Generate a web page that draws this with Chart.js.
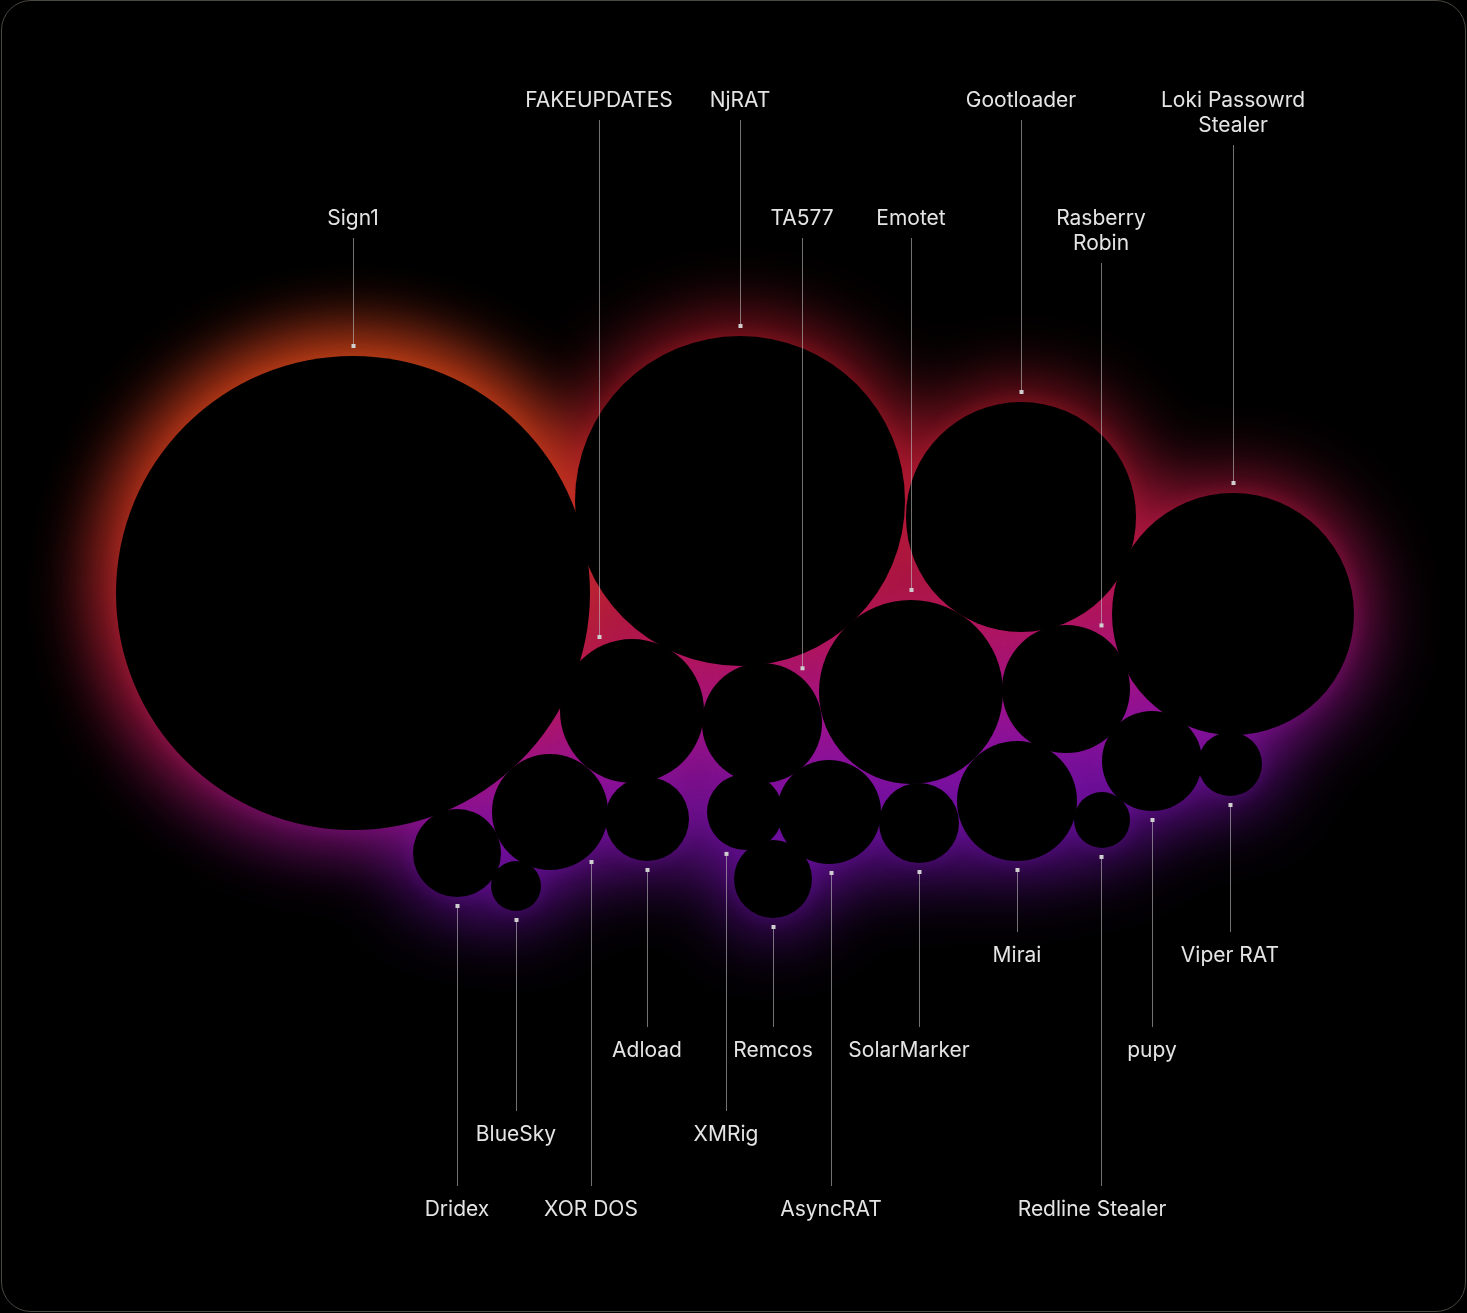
<!DOCTYPE html>
<html>
<head>
<meta charset="utf-8">
<script src="https://cdn.jsdelivr.net/npm/chart.js@4"></script>
<style>
    html, body { margin: 0; padding: 0; background: #000; }
    .frame {
        position: absolute; left: 1px; top: 0; right: 1px; bottom: 1px;
        border: 1px solid #4a4640; border-radius: 30px;
    }
    .chart-box { position: absolute; left: 0; top: 0; width: 1467px; height: 1313px; }
</style>
</head>
<body>
<div class="frame"></div>
<div class="chart-box"><canvas id="bubble-chart"></canvas></div>
<script>
// malware families, packed bubble layout
const names = ['Sign1', 'NjRAT', 'Gootloader', 'Loki Passowrd Stealer', 'Emotet', 'Rasberry Robin',
    'FAKEUPDATES', 'TA577', 'XOR DOS', 'Adload', 'Dridex', 'BlueSky', 'XMRig', 'AsyncRAT',
    'Remcos', 'SolarMarker', 'Mirai', 'Redline Stealer', 'pupy', 'Viper RAT'];
const xs = [35.3, 74.0, 102.1, 123.3, 91.1, 106.6, 63.2, 76.2, 55.0, 64.7, 45.7, 51.6, 74.5, 82.9,
    77.3, 91.9, 101.7, 110.2, 115.2, 123.0];
const ys = [59.3, 50.1, 51.7, 61.4, 69.2, 68.9, 71.1, 72.3, 81.2, 81.9, 85.3, 88.6, 81.2, 81.2,
    87.9, 82.3, 80.1, 82.0, 76.1, 76.4];
const sizes = [237, 165, 115, 121, 92, 64, 72, 60, 58, 42, 44, 25, 38, 52, 39, 40, 60, 28, 50, 32];

// label layout: text lines, label row (y in chart units), leader offset from centre, text nudge
const labelLayout = [
    { lines: ['Sign1'], row: 21.7, dx: 0, side: 'top' },
    { lines: ['NjRAT'], row: 9.9, dx: 0, side: 'top' },
    { lines: ['Gootloader'], row: 9.9, dx: 0, side: 'top' },
    { lines: ['Loki Passowrd', 'Stealer'], row: 9.9, dx: 0, side: 'top' },
    { lines: ['Emotet'], row: 21.7, dx: 0, side: 'top' },
    { lines: ['Rasberry', 'Robin'], row: 21.7, dx: 3.5, side: 'top' },
    { lines: ['FAKEUPDATES'], row: 9.9, dx: -3.3, side: 'top' },
    { lines: ['TA577'], row: 21.7, dx: 4.0, side: 'top' },
    { lines: ['XOR DOS'], row: 120.8, dx: 4.1, side: 'bottom' },
    { lines: ['Adload'], row: 104.9, dx: 0, side: 'bottom' },
    { lines: ['Dridex'], row: 120.8, dx: 0, side: 'bottom' },
    { lines: ['BlueSky'], row: 113.3, dx: 0, side: 'bottom' },
    { lines: ['XMRig'], row: 113.3, dx: -1.9, side: 'bottom' },
    { lines: ['AsyncRAT'], row: 120.8, dx: 0.2, side: 'bottom' },
    { lines: ['Remcos'], row: 104.9, dx: 0, side: 'bottom' },
    { lines: ['SolarMarker'], row: 104.9, dx: 0, side: 'bottom', textDx: -1.0 },
    { lines: ['Mirai'], row: 95.4, dx: 0, side: 'bottom' },
    { lines: ['Redline Stealer'], row: 120.8, dx: -0.1, side: 'bottom', textDx: -0.9 },
    { lines: ['pupy'], row: 104.9, dx: 0, side: 'bottom' },
    { lines: ['Viper RAT'], row: 95.4, dx: 0, side: 'bottom' }
];

const points = names.map((name, i) => ({ x: xs[i], y: ys[i], r: sizes[i] }));

function blurredDiscs(ctx, els, fill, blur, grow, alpha) {
    ctx.save();
    ctx.filter = `blur(${blur}px)`;
    ctx.globalAlpha = alpha;
    ctx.fillStyle = fill;
    ctx.beginPath();
    els.forEach(el => {
        const rr = el.options.radius + grow;
        ctx.moveTo(el.x + rr, el.y);
        ctx.arc(el.x, el.y, rr, 0, Math.PI * 2);
    });
    ctx.fill();
    ctx.restore();
}

// blurred coloured halo behind the black bubbles
const glowPlugin = {
    id: 'glow',
    beforeDatasetsDraw(chart) {
        const ctx = chart.ctx;
        const els = chart.getDatasetMeta(0).data;

        // mostly top-to-bottom: red -> pink -> magenta -> purple
        const base = ctx.createLinearGradient(300, 330, 360, 880);
        base.addColorStop(0, '#b81a2a');
        base.addColorStop(0.3, '#bc1a2c');
        base.addColorStop(0.52, '#bc1840');
        base.addColorStop(0.64, '#bc1658');
        base.addColorStop(0.74, '#b2147a');
        base.addColorStop(0.84, '#9a12a0');
        base.addColorStop(1, '#7010ac');
        blurredDiscs(ctx, els, base, 38, 10, 0.95);
        blurredDiscs(ctx, els, base, 8, 2, 0.22);

        // orange cast around the big left bubble
        const warm = ctx.createLinearGradient(0, 340, 0, 840);
        warm.addColorStop(0, 'rgba(226, 96, 14, 1)');
        warm.addColorStop(0.35, 'rgba(206, 70, 20, 0.85)');
        warm.addColorStop(0.7, 'rgba(196, 30, 52, 0.45)');
        warm.addColorStop(1, 'rgba(190, 24, 70, 0.1)');
        blurredDiscs(ctx, [els[0]], warm, 38, 10, 0.95);
    }
};

// leader lines, end markers and names
const labelPlugin = {
    id: 'labels',
    afterDatasetsDraw(chart) {
        const ctx = chart.ctx;
        const xScale = chart.scales.x;
        const yScale = chart.scales.y;
        const els = chart.getDatasetMeta(0).data;
        ctx.save();
        ctx.font = '21px Inter';
        ctx.textAlign = 'center';
        ctx.textBaseline = 'middle';
        labelLayout.forEach((lab, i) => {
            const el = els[i];
            const r = el.options.radius;
            const lx = xScale.getPixelForValue(xs[i] + lab.dx);
            const tx = xScale.getPixelForValue(xs[i] + lab.dx + (lab.textDx || 0));
            const ty = yScale.getPixelForValue(lab.row);
            const off = lx - el.x;
            const h = Math.sqrt(Math.max(r * r - off * off, 0));
            let markY, y0, y1;
            if (lab.side === 'top') {
                markY = el.y - h - 10;
                y0 = ty + (lab.lines.length - 1) * 25 + 21;
                y1 = markY;
            } else {
                markY = el.y + h + 9;
                y0 = markY;
                y1 = ty - 22;
            }
            ctx.strokeStyle = 'rgba(190, 190, 190, 0.6)';
            ctx.lineWidth = 1;
            ctx.beginPath();
            ctx.moveTo(Math.round(lx) + 0.5, y0);
            ctx.lineTo(Math.round(lx) + 0.5, y1);
            ctx.stroke();
            ctx.fillStyle = '#cfcfcf';
            ctx.fillRect(Math.round(lx) - 1.5, markY - 2, 4, 4);
            ctx.fillStyle = '#e4e4e4';
            lab.lines.forEach((line, k) => ctx.fillText(line, tx, ty + 2 + k * 25));
        });
        ctx.restore();
    }
};

new Chart(document.querySelector('#bubble-chart').getContext('2d'), {
    type: 'bubble',
    data: {
        labels: names,
        datasets: [{
            label: 'Malware',
            data: points,
            backgroundColor: '#000',
            borderWidth: 0,
            hoverBorderWidth: 0
        }]
    },
    options: {
        responsive: true,
        maintainAspectRatio: false,
        animation: false,
        events: [],
        layout: { padding: 0, autoPadding: false },
        clip: false,
        scales: {
            x: { type: 'linear', min: 0, max: 146.7, display: false },
            y: { type: 'linear', min: 0, max: 131.3, reverse: true, display: false }
        },
        plugins: {
            legend: { display: false },
            tooltip: { enabled: false }
        }
    },
    plugins: [glowPlugin, labelPlugin]
});
</script>
</body>
</html>
